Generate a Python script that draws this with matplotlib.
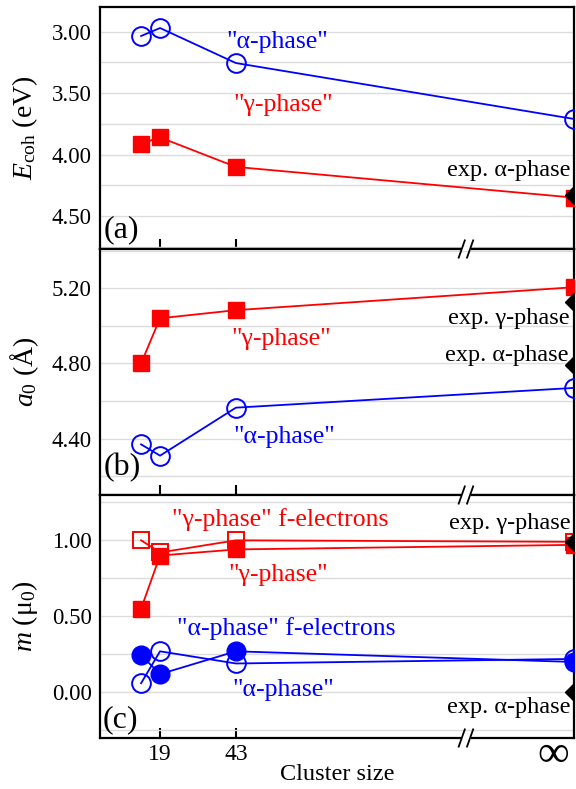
import numpy as np
import matplotlib
matplotlib.use("Agg")
import matplotlib.pyplot as plt
from matplotlib.lines import Line2D
from matplotlib.transforms import Affine2D, ScaledTranslation
from matplotlib.ticker import MultipleLocator, FormatStrFormatter

plt.rcParams['font.family'] = ['Liberation Serif', 'DejaVu Serif']
plt.rcParams['mathtext.fontset'] = 'custom'
plt.rcParams['mathtext.rm'] = 'Liberation Serif'
plt.rcParams['mathtext.it'] = 'Liberation Serif:italic'

# ---------------- data ----------------
cluster_sizes = [13, 19, 43, np.inf]
xtick_values = [19, 43]
xtick_labels = ["19", "43"]

ecoh_alpha = [3.035, 2.97, 3.255, 3.71]
ecoh_gamma = [3.91, 3.86, 4.10, 4.35]
ecoh_exp_alpha = 4.33

a0_gamma = [4.80, 5.04, 5.083, 5.205]
a0_alpha = [4.37, 4.31, 4.565, 4.67]
a0_exp_gamma = 5.125
a0_exp_alpha = 4.79

m_gamma = [0.55, 0.90, 0.94, 0.97]
m_gamma_f = [1.00, 0.92, 1.00, 0.99]
m_alpha = [0.245, 0.12, 0.27, 0.20]
m_alpha_f = [0.06, 0.27, 0.19, 0.22]
m_exp_gamma = 0.99
m_exp_alpha = 0.00

# ---------------- style ----------------
BLUE = '#0000ff'
RED = '#ff0000'
X_INF = 150.0
X_BREAK = 115.8
xs = [X_INF if np.isinf(v) else v for v in cluster_sizes]

W, H = 576, 789
fig = plt.figure(figsize=(W / 100, H / 100), dpi=100)

left = 100 / W
width = 474 / W
ax_a = fig.add_axes([left, 1 - 249 / H, width, 242 / H])
ax_b = fig.add_axes([left, 1 - 495 / H, width, 246 / H])
ax_c = fig.add_axes([left, 1 - 738 / H, width, 243 / H])

TICK_FS = 16.5
ANN_FS = 18.5
EXP_FS = 17.5
YLAB_FS = 20


def style_axis(ax, major, minor, ylim):
    ax.set_xlim(0, X_INF)
    ax.set_ylim(*ylim)
    ax.yaxis.set_major_locator(MultipleLocator(major))
    ax.yaxis.set_minor_locator(MultipleLocator(minor))
    ax.yaxis.set_major_formatter(FormatStrFormatter('%.2f'))
    ax.grid(True, axis='y', which='both', color='#dcdcdc', lw=1.0, zorder=0)
    ax.set_axisbelow(True)
    ax.tick_params(axis='y', which='both', length=0, pad=6, labelsize=TICK_FS)
    ax.set_xticks(xtick_values)
    ax.tick_params(axis='x', direction='in', length=7, width=1.5,
                   bottom=True, top=False, labelbottom=False)
    for s in ax.spines.values():
        s.set_linewidth(1.6)


def open_line(ax, y, color, marker, ms):
    ax.plot(xs, y, '-', color=color, lw=1.3, marker=marker, ms=ms,
            mfc='none', mec=color, mew=1.4, zorder=3)


def filled_line(ax, y, color, marker, ms):
    ax.plot(xs, y, '-', color=color, lw=1.3, marker=marker, ms=ms,
            mfc=color, mec=color, mew=1.0, zorder=4)


def exp_marker(ax, y):
    ax.plot([X_INF], [y], marker='D', ms=9.5, color='black', zorder=6)


# ---------- panel (a) ----------
style_axis(ax_a, 0.5, 0.25, (4.768, 2.799))
open_line(ax_a, ecoh_alpha, BLUE, 'o', 13.5)
filled_line(ax_a, ecoh_gamma, RED, 's', 12)
exp_marker(ax_a, ecoh_exp_alpha)
ax_a.text(56, 3.08, '"α-phase"', color=BLUE, fontsize=ANN_FS, ha='center', va='center')
ax_a.text(58, 3.60, '"γ-phase"', color=RED, fontsize=ANN_FS, ha='center', va='center')
ax_a.text(149, 4.13, 'exp. α-phase', color='black', fontsize=EXP_FS, ha='right', va='center')
ax_a.text(1.2, 4.61, '(a)', fontsize=23, ha='left', va='center')
ax_a.text(-0.158, 0.5, r'$E_{\mathrm{coh}}$ (eV)', transform=ax_a.transAxes,
          rotation=90, ha='center', va='center', fontsize=YLAB_FS)

# ---------- panel (b) ----------
style_axis(ax_b, 0.4, 0.2, (4.101, 5.408))
filled_line(ax_b, a0_gamma, RED, 's', 12)
open_line(ax_b, a0_alpha, BLUE, 'o', 13.5)
exp_marker(ax_b, a0_exp_gamma)
exp_marker(ax_b, a0_exp_alpha)
ax_b.text(57.4, 4.93, '"γ-phase"', color=RED, fontsize=ANN_FS, ha='center', va='center')
ax_b.text(58.4, 4.41, '"α-phase"', color=BLUE, fontsize=ANN_FS, ha='center', va='center')
ax_b.text(148.5, 5.04, 'exp. γ-phase', color='black', fontsize=EXP_FS, ha='right', va='center')
ax_b.text(148.2, 4.84, 'exp. α-phase', color='black', fontsize=EXP_FS, ha='right', va='center')
ax_b.text(1.0, 4.245, '(b)', fontsize=23, ha='left', va='center')
ax_b.text(-0.158, 0.5, r'$a_{0}$ (Å)', transform=ax_b.transAxes,
          rotation=90, ha='center', va='center', fontsize=YLAB_FS)

# ---------- panel (c) ----------
style_axis(ax_c, 0.5, 0.25, (-0.30, 1.298))
open_line(ax_c, m_gamma_f, RED, 's', 12)
filled_line(ax_c, m_gamma, RED, 's', 12)
open_line(ax_c, m_alpha_f, BLUE, 'o', 13.5)
filled_line(ax_c, m_alpha, BLUE, 'o', 13.5)
exp_marker(ax_c, m_exp_gamma)
exp_marker(ax_c, m_exp_alpha)
ax_c.text(57, 1.14, '"γ-phase" f-electrons', color=RED, fontsize=ANN_FS, ha='center', va='center')
ax_c.text(56.5, 0.77, '"γ-phase"', color=RED, fontsize=ANN_FS, ha='center', va='center')
ax_c.text(59, 0.42, '"α-phase" f-electrons', color=BLUE, fontsize=ANN_FS, ha='center', va='center')
ax_c.text(58, 0.015, '"α-phase"', color=BLUE, fontsize=ANN_FS, ha='center', va='center')
ax_c.text(148.8, 1.11, 'exp. γ-phase', color='black', fontsize=EXP_FS, ha='right', va='center')
ax_c.text(148.8, -0.10, 'exp. α-phase', color='black', fontsize=EXP_FS, ha='right', va='center')
ax_c.text(0.8, -0.18, '(c)', fontsize=23, ha='left', va='center')
ax_c.text(-0.158, 0.5, r'$m$ ($\mathrm{\mu}_{0}$)', transform=ax_c.transAxes,
          rotation=90, ha='center', va='center', fontsize=YLAB_FS)
ax_c.tick_params(axis='x', labelbottom=True, labelsize=17, pad=4)
ax_c.set_xticklabels(xtick_labels)
ax_c.text(143.3, -0.072, '∞', transform=ax_c.get_xaxis_transform(),
          fontsize=32, ha='center', va='center')
ax_c.text(75.2, -0.152, 'Cluster size', transform=ax_c.get_xaxis_transform(),
          fontsize=17.5, ha='center', va='center')

# ---------- axis break marks ----------
for ax in (ax_a, ax_b, ax_c):
    tr = (Affine2D().scale(1 / 72) + fig.dpi_scale_trans +
          ScaledTranslation(X_BREAK, 0, ax.get_xaxis_transform()))
    fig.add_artist(Line2D([-3.5, 3.5], [0, 0], transform=tr, color='white',
                          lw=3, solid_capstyle='butt', zorder=10))
    for dx in (-3.0, 3.0):
        fig.add_artist(Line2D([dx - 2.2, dx + 2.2], [-6.2, 6.2], transform=tr,
                              color='black', lw=1.3, zorder=11))

fig.savefig('out.png', dpi=100)
